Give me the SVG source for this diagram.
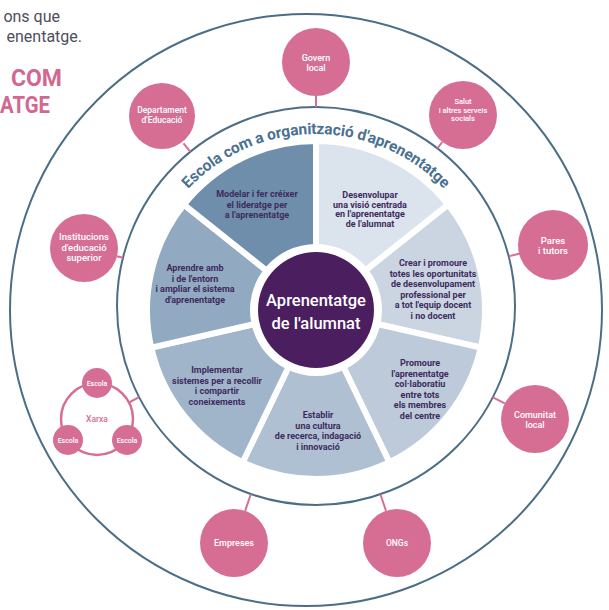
<svg xmlns="http://www.w3.org/2000/svg" width="609" height="610" viewBox="0 0 609 610">
<style>
.ring{fill:none;stroke:#4b6e86;stroke-width:2}
.pn{fill:#d66e94}
.pt{fill:#fff;font-family:Roboto,"Liberation Sans",sans-serif;font-weight:500;text-anchor:middle}
.seg{stroke:#fff;stroke-width:6}
.st{fill:#3e2b5e;font-family:Roboto,"Liberation Sans",sans-serif;font-weight:700;font-size:9px;text-anchor:middle}
.con{stroke:#d66e94;stroke-width:2;fill:none}
</style>
<rect width="609" height="610" fill="#fff"/>
<g id="header">
<text x="60" y="22" text-anchor="end" font-family="Roboto,'Liberation Sans',sans-serif" font-size="16" fill="#4e4e5c">ons que</text>
<text x="82" y="42" text-anchor="end" font-family="Roboto,'Liberation Sans',sans-serif" font-size="16" fill="#4e4e5c">enentatge.</text>
<text x="62" y="86" text-anchor="end" font-family="Roboto,'Liberation Sans',sans-serif" font-size="23" font-weight="700" fill="#d26890">COM</text>
<text x="0" y="113" font-family="Roboto,'Liberation Sans',sans-serif" font-size="23" font-weight="700" fill="#d26890" textLength="50" lengthAdjust="spacingAndGlyphs">ATGE</text>
</g>
<circle class="ring" cx="306" cy="310" r="296"/>
<circle class="ring" cx="316" cy="306" r="199"/>
<g id="connectors">
<line class="con" x1="316" y1="96" x2="316" y2="107"/>
<line class="con" x1="183.5" y1="143.4" x2="190.3" y2="151.7"/>
<line class="con" x1="442.3" y1="142" x2="437.4" y2="148.3"/>
<line class="con" x1="520" y1="253.5" x2="508.7" y2="256.4"/>
<line class="con" x1="504.8" y1="403.4" x2="492.9" y2="397.3"/>
<line class="con" x1="386" y1="510.8" x2="380.4" y2="494.3"/>
<line class="con" x1="245.1" y1="510.9" x2="250.9" y2="494"/>
<line class="con" x1="117" y1="256.2" x2="122.9" y2="257.7"/>
<line class="con" x1="129" y1="402.5" x2="139.1" y2="397.2"/>
</g>
<defs>
<path id="arc" d="M150.61,249.8 A176,176 0 0 1 481.39,249.8"/>
</defs>
<text font-family="Roboto,'Liberation Sans',sans-serif" font-size="15.5" font-weight="700" fill="#4a7191"><textPath href="#arc" startOffset="50%" text-anchor="middle" textLength="286" lengthAdjust="spacing">Escola com a organització d'aprenentatge</textPath></text>
<g id="seg-desenvolupar">
<path class="seg" fill="#dbe3ec" d="M316,141 A169,169 0 0 1 448.12,204.63 L365.25,270.72 A63,63 0 0 0 316,247 Z"/>
<text class="st"><tspan x="370" y="198">Desenvolupar</tspan><tspan x="370" y="207.5">una visió centrada</tspan><tspan x="370" y="217">en l'aprenentatge</tspan><tspan x="370" y="226.5">de l'alumnat</tspan></text>
</g>
<g id="seg-crear">
<path class="seg" fill="#cad5e1" d="M448.12,204.63 A169,169 0 0 1 480.76,347.6 L377.42,324.02 A63,63 0 0 0 365.25,270.72 Z"/>
<text class="st"><tspan x="433" y="266">Crear i promoure</tspan><tspan x="433" y="276.5">totes les oportunitats</tspan><tspan x="433" y="287">de desenvolupament</tspan><tspan x="433" y="297.5">professional per</tspan><tspan x="433" y="308">a tot l'equip docent</tspan><tspan x="433" y="318.5">i no docent</tspan></text>
</g>
<g id="seg-promoure">
<path class="seg" fill="#bccad9" d="M480.76,347.6 A169,169 0 0 1 389.33,462.27 L343.34,366.76 A63,63 0 0 0 377.42,324.02 Z"/>
<text class="st"><tspan x="420" y="366">Promoure</tspan><tspan x="420" y="376.5">l'aprenentatge</tspan><tspan x="420" y="387">col·laboratiu</tspan><tspan x="420" y="397.5">entre tots</tspan><tspan x="420" y="408">els membres</tspan><tspan x="420" y="418.5">del centre</tspan></text>
</g>
<g id="seg-establir">
<path class="seg" fill="#afc0d2" d="M389.33,462.27 A169,169 0 0 1 242.67,462.27 L288.66,366.76 A63,63 0 0 0 343.34,366.76 Z"/>
<text class="st"><tspan x="318" y="418">Establir</tspan><tspan x="318" y="428.5">una cultura</tspan><tspan x="318" y="439">de recerca, indagació</tspan><tspan x="318" y="449.5">i innovació</tspan></text>
</g>
<g id="seg-implementar">
<path class="seg" fill="#a1b5ca" d="M242.67,462.27 A169,169 0 0 1 151.24,347.6 L254.58,324.02 A63,63 0 0 0 288.66,366.76 Z"/>
<text class="st"><tspan x="217" y="373">Implementar</tspan><tspan x="217" y="383.5">sistemes per a recollir</tspan><tspan x="217" y="394">i compartir</tspan><tspan x="217" y="404.5">coneixements</tspan></text>
</g>
<g id="seg-aprendre">
<path class="seg" fill="#91a9c1" d="M151.24,347.6 A169,169 0 0 1 183.88,204.63 L266.75,270.72 A63,63 0 0 0 254.58,324.02 Z"/>
<text class="st"><tspan x="195" y="271">Aprendre amb</tspan><tspan x="195" y="281.5">i de l'entorn</tspan><tspan x="195" y="292">i ampliar el sistema</tspan><tspan x="195" y="302.5">d'aprenentatge</tspan></text>
</g>
<g id="seg-modelar">
<path class="seg" fill="#6f8eab" d="M183.88,204.63 A169,169 0 0 1 316,141 L316,247 A63,63 0 0 0 266.75,270.72 Z"/>
<text class="st"><tspan x="257" y="197">Modelar i fer créixer</tspan><tspan x="257" y="207.5">el lideratge per</tspan><tspan x="257" y="218">a l'aprenentatge</tspan></text>
</g>
<g id="center">
<circle cx="316" cy="310" r="58" fill="#4b1f5f"/>
<text x="316" y="306" text-anchor="middle" font-family="Roboto,'Liberation Sans',sans-serif" font-size="16.5" font-weight="500" fill="#fff">Aprenentatge</text>
<text x="316" y="329" text-anchor="middle" font-family="Roboto,'Liberation Sans',sans-serif" font-size="16.5" font-weight="500" fill="#fff">de l'alumnat</text>
</g>
<g id="n-govern">
<circle class="pn" cx="316" cy="62" r="34"/>
<text class="pt" font-size="9"><tspan x="316" y="61">Govern</tspan><tspan x="316" y="71">local</tspan></text>
</g>
<g id="n-departament">
<circle class="pn" cx="162" cy="116" r="33"/>
<text class="pt" font-size="8.5"><tspan x="162" y="113">Departament</tspan><tspan x="162" y="123">d'Educació</tspan></text>
</g>
<g id="n-salut">
<circle class="pn" cx="463" cy="115" r="34"/>
<text class="pt" font-size="7.5"><tspan x="463" y="104">Salut</tspan><tspan x="463" y="112.5">i altres serveis</tspan><tspan x="463" y="121">socials</tspan></text>
</g>
<g id="n-pares">
<circle class="pn" cx="553" cy="245" r="35"/>
<text class="pt" font-size="9.5"><tspan x="553" y="244">Pares</tspan><tspan x="553" y="254">i tutors</tspan></text>
</g>
<g id="n-comunitat">
<circle class="pn" cx="535" cy="419" r="34"/>
<text class="pt" font-size="9"><tspan x="535" y="418">Comunitat</tspan><tspan x="535" y="428">local</tspan></text>
</g>
<g id="n-ongs">
<circle class="pn" cx="397" cy="543" r="34"/>
<text class="pt" font-size="8.5" x="397" y="546">ONGs</text>
</g>
<g id="n-empreses">
<circle class="pn" cx="234" cy="543" r="34"/>
<text class="pt" font-size="9" x="234" y="546">Empreses</text>
</g>
<g id="n-institucions">
<circle class="pn" cx="84" cy="248" r="34"/>
<text class="pt" font-size="9.5"><tspan x="84" y="240">Institucions</tspan><tspan x="84" y="250.5">d'educació</tspan><tspan x="84" y="261">superior</tspan></text>
</g>
<g id="n-xarxa">
<circle cx="97" cy="419" r="36" fill="#fff" stroke="#d66e94" stroke-width="2.5"/>
<text x="97" y="422" text-anchor="middle" font-family="Roboto,'Liberation Sans',sans-serif" font-size="8.5" font-weight="500" fill="#d66e94">Xarxa</text>
</g>
<g id="n-escola-1">
<circle class="pn" cx="97" cy="383" r="15"/>
<text class="pt" font-size="7" x="97" y="385.5">Escola</text>
</g>
<g id="n-escola-2">
<circle class="pn" cx="68" cy="440" r="15"/>
<text class="pt" font-size="7" x="68" y="442.5">Escola</text>
</g>
<g id="n-escola-3">
<circle class="pn" cx="127" cy="440" r="15"/>
<text class="pt" font-size="7" x="127" y="442.5">Escola</text>
</g>
</svg>
